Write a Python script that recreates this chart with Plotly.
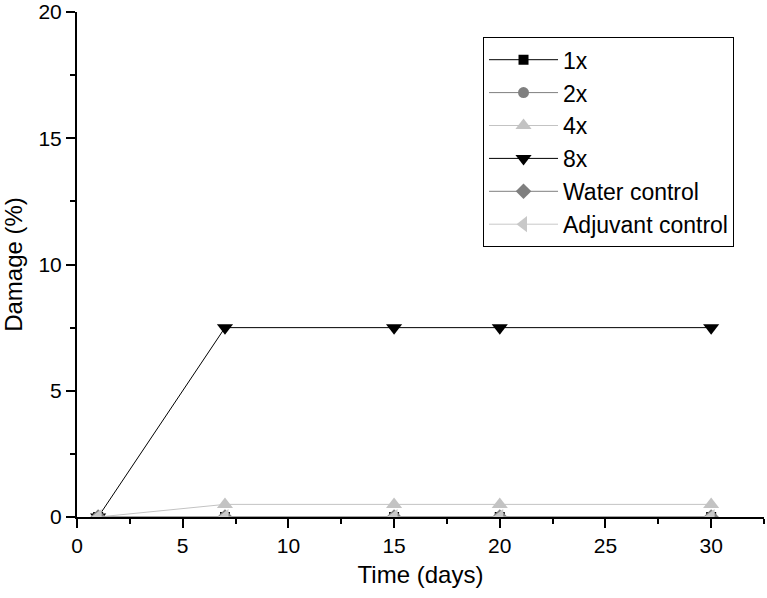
import plotly.graph_objects as go

days = [1, 7, 15, 20, 30]
dmg_1x = [0, 0, 0, 0, 0]
dmg_2x = [0, 0, 0, 0, 0]
dmg_4x = [0, 0.5, 0.5, 0.5, 0.5]
dmg_8x = [0, 7.5, 7.5, 7.5, 7.5]
dmg_water = [0, 0, 0, 0, 0]
dmg_adjuvant = [0, 0, 0, 0, 0]

series = [
    ("1x", dmg_1x, "#000000", "square", 10),
    ("2x", dmg_2x, "#7f7f7f", "circle", 11),
    ("4x", dmg_4x, "#c3c3c3", "triangle-up", 14),
    ("8x", dmg_8x, "#000000", "triangle-down", 14),
    ("Water control", dmg_water, "#7f7f7f", "diamond", 12),
    ("Adjuvant control", dmg_adjuvant, "#c8c8c8", "triangle-left", 14),
]

fig = go.Figure()
for name, vals, col, sym, sz in series:
    fig.add_trace(go.Scatter(
        x=days, y=vals, name=name, mode="lines+markers",
        line=dict(color=col, width=1),
        marker=dict(color=col, symbol=sym, size=sz),
    ))

fig.update_layout(
    width=767, height=598,
    margin=dict(l=77, r=3, t=12, b=81),
    plot_bgcolor="white", paper_bgcolor="white",
    font=dict(family="Liberation Sans, Arial", size=21, color="#000"),
    legend=dict(
        x=0.591, y=0.950, xanchor="left", yanchor="top",
        bordercolor="#000", borderwidth=1, bgcolor="white",
        font=dict(size=23), itemwidth=69, tracegroupgap=0,
        entrywidth=190,
    ),
)
fig.update_xaxes(
    range=[0, 32.5], dtick=5, showgrid=False, zeroline=False, automargin=False,
    showline=True, linecolor="#000", linewidth=2,
    ticks="outside", ticklen=9, tickwidth=2, tickcolor="#000",
    minor=dict(dtick=2.5, ticks="outside", ticklen=5, tickwidth=2, tickcolor="#000"),
    title=dict(text="Time (days)", font=dict(size=24), standoff=10),
)
fig.update_yaxes(
    range=[0, 20], dtick=5, showgrid=False, zeroline=False, automargin=False,
    showline=True, linecolor="#000", linewidth=2, ticklabeloverflow="allow",
    ticks="outside", ticklen=9, tickwidth=2, tickcolor="#000",
    minor=dict(dtick=2.5, ticks="outside", ticklen=5, tickwidth=2, tickcolor="#000"),
    title=dict(text="Damage (%)", font=dict(size=24), standoff=16),
)

# drop the default 8px body margin so the figure sits at the window corner
fig.write_html("out.html", config={"displayModeBar": False},
               post_script="document.body.style.margin='0';")
